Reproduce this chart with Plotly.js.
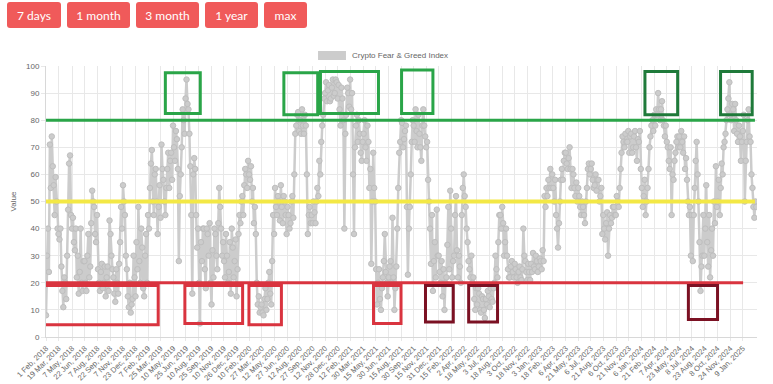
<!DOCTYPE html>
<html>
<head>
<meta charset="utf-8">
<script src="https://cdn.plot.ly/plotly-3.0.1.min.js"></script>
<style>
  body { margin: 0; background: #fff; }
  #wrap { position: relative; width: 773px; height: 384px; overflow: hidden; }
  #chart { position: absolute; left: 0; top: 0; width: 773px; height: 384px; }
  .btn { position: absolute; top: 2px; height: 26px; background: #f05a5a; color: #fff;
         border-radius: 3px; font: 12px Lato, "Open Sans", sans-serif;
         display: flex; align-items: center; justify-content: center; }
</style>
</head>
<body>
<div id="wrap">
  <div id="chart"></div>
  <div class="btn" style="left:7px;width:54px">7 days</div>
  <div class="btn" style="left:67px;width:63px">1 month</div>
  <div class="btn" style="left:136px;width:63px">3 month</div>
  <div class="btn" style="left:205px;width:53px">1 year</div>
  <div class="btn" style="left:264px;width:43px">max</div>
</div>
<script>
// ---- data: index readings every 3.5 days, starting 1 Feb 2018 ----
const seriesName = 'Crypto Fear & Greed Index';
const startDate = '2018-02-01';
const stepDays = 3.5;
const indexValues = [
  8,30, 40,24, 71,55, 74,63, 56,45, 59,50, 40,38,
  36,40, 26,17, 11,22, 20,14, 30,47, 64,67, 45,40,
  44,35, 32,40, 22,30, 16,24, 40,20, 17,28,
  28,20, 17,30, 38,22, 26,42, 54,50, 48,38, 35,45,
  25,20, 17,24, 27,18, 20,26, 15,22, 26,17,
  43,38, 30,25, 22,16, 13,25, 20,16, 27,35, 48,40,
  56,50, 45,30, 25,15, 11,20, 9,12, 14,30,
  22,15, 35,25, 48,28, 20,40, 33,18, 15,30, 38,20,
  45,40, 55,64, 69,50, 45,60, 62,50, 38,48, 56,44,
  71,62, 58,50, 45,55, 62,68, 55,65, 68,58,
  78,70, 65,76, 73,62, 28,52, 60,70, 84,80, 75,88,
  95,86, 84,75, 63,45, 16,60, 66,62, 45,33,
  40,20, 5,35, 28,40, 40,25, 18,40, 38,30, 42,20,
  12,32, 22,40, 38,30, 25,42, 55,48, 40,30,
  35,28, 22,38, 30,20, 24,35, 16,40, 33,22, 28,36,
  15,25, 38,45, 42,50, 52,45, 56,62, 60,55, 65,60,
  58,63, 50,55, 42,48, 38,20, 12,15, 9,11,
  12,9, 8,14, 18,10, 14,20, 24,16, 12,28, 45,38,
  55,48, 45,52, 50,43, 56,48, 42,52, 50,45,
  38,48, 45,40, 42,50, 52,44, 60,75, 78,82, 83,76,
  80,75, 84,78, 75,82, 78,60, 38,45, 48,42,
  45,42, 50,46, 42,50, 55,52, 65,60, 72,78, 82,88,
  90,94, 87,91, 93,87, 88,92, 95,89, 90,95, 94,88,
  93,84, 78,92, 88,80, 40,75, 82,92, 90,85,
  95,84, 90,60, 38,70, 78,82, 72,80, 75,68, 65,72,
  75,80, 70,65, 78,72, 55,62, 27,50, 68,55,
  50,25, 12,20, 25,14, 10,18, 22,28, 38,24, 20,15,
  22,26, 28,20, 44,22, 10,18, 26,40, 55,68,
  72,80, 79,70, 73,76, 78,48, 23,40, 48,60, 72,80,
  78,72, 84,76, 70,82, 75,70, 65,78, 84,78, 74,70,
  72,58, 50,40, 27,45, 17,28, 35,22, 47,30,
  30,24, 20,28, 15,25, 10,20, 22,34, 48,25, 54,40,
  22,28, 30,45, 52,32, 22,30, 26,20, 45,55,
  60,52, 48,40, 35,28, 25,22, 30,20, 22,14, 10,18,
  12,18, 16,10, 9,15, 14,10, 7,14, 12,17,
  15,11, 18,14, 13,18, 20,30, 25,22, 35,45, 45,40,
  48,42, 30,35, 40,30, 25,22, 22,26, 28,24, 22,27,
  25,22, 20,24, 26,22, 21,25, 40,30, 28,24,
  21,27, 24,21, 27,24, 31,26, 25,30, 28,24, 26,29,
  28,25, 32,28, 52,48, 55,52, 58,55, 62,55,
  60,55, 50,58, 45,40, 33,42, 50,58, 62,58, 65,68,
  68,64, 62,66, 70,62, 55,62, 60,55, 52,57,
  50,55, 52,48, 45,50, 48,45, 42,50, 55,62, 64,60,
  62,64, 58,55, 56,60, 54,58, 58,50, 52,55, 38,45,
  40,36, 42,46, 30,40, 45,42, 44,48, 48,45,
  45,52, 50,48, 55,62, 68,74, 72,70, 75,72, 72,76,
  68,74, 75,68, 70,74, 76,70, 65,73, 72,76,
  62,55, 48,52, 58,45, 50,55, 62,70, 74,78, 80,76,
  82,78, 84,82, 90,84, 80,84, 87,80, 78,74,
  78,72, 70,65, 62,70, 45,60, 58,65, 68,72, 74,70,
  74,70, 76,72, 68,74, 62,66, 58,50, 45,48, 30,45,
  28,45, 55,65, 72,60, 50,35, 17,26, 30,45,
  30,40, 56,35, 26,45, 22,32, 40,30, 50,42, 63,48,
  50,58, 45,55, 64,60, 70,72, 75,80, 84,88,
  94,82, 80,86, 84,76, 86,80, 75,72, 78,74, 65,72,
  76,82, 50,65, 72,80, 84,74, 72,60, 55,48, 44,50, 48
];
const tickLabels = [
  '1 Feb, 2018','19 Mar, 2018','7 May, 2018','22 Jun, 2018','7 Aug, 2018','22 Sep, 2018',
  '7 Nov, 2018','23 Dec, 2018','7 Feb, 2019','25 Mar, 2019','10 May, 2019','25 Jun, 2019',
  '10 Aug, 2019','25 Sep, 2019','10 Nov, 2019','26 Dec, 2019','10 Feb, 2020','27 Mar, 2020',
  '12 May, 2020','27 Jun, 2020','12 Aug, 2020','27 Sep, 2020','12 Nov, 2020','28 Dec, 2020',
  '12 Feb, 2021','30 Mar, 2021','15 May, 2021','30 Jun, 2021','15 Aug, 2021','30 Sep, 2021',
  '15 Nov, 2021','31 Dec, 2021','15 Feb, 2022','2 Apr, 2022','18 May, 2022','3 Jul, 2022',
  '18 Aug, 2022','3 Oct, 2022','18 Nov, 2022','3 Jan, 2023','18 Feb, 2023','6 Apr, 2023',
  '21 May, 2023','6 Jul, 2023','21 Aug, 2023','6 Oct, 2023','21 Nov, 2023','6 Jan, 2024',
  '21 Feb, 2024','7 Apr, 2024','23 May, 2024','8 Jul, 2024','23 Aug, 2024','8 Oct, 2024',
  '24 Nov, 2024','9 Jan, 2025'
];
// threshold lines and highlighted zones (dates / index values)
const greedLevel = 80, neutralLevel = 50, fearLevel = 20;
const greedZones = [
  ['2019-04-11','2019-08-16',82.5,97.5],
  ['2020-06-15','2020-10-16',82,97.5],
  ['2020-10-26','2021-05-25',82.5,98],
  ['2021-08-17','2021-12-09',82.5,98.5]
];
const extremeGreedZones = [
  ['2024-01-19','2024-05-17',82,98],
  ['2024-10-20','2025-02-12',82,98]
];
const fearZones = [
  ['2018-01-22','2019-03-16',4.5,19],
  ['2019-06-21','2020-01-17',5,19],
  ['2020-02-09','2020-06-06',4.5,19],
  ['2021-05-07','2021-08-15',5,19]
];
const extremeFearZones = [
  ['2021-11-12','2022-02-21',5.5,19],
  ['2022-04-18','2022-08-01',5.5,19],
  ['2024-06-25','2024-10-09',6.5,19]
];

// ---- build ----
const HOUR = 3600000;
const t0 = Date.parse(startDate + 'T00:00:00Z');
const isoTime = ms => new Date(ms).toISOString().slice(0, 16).replace('T', ' ');
const xDates = indexValues.map((_, i) => isoTime(t0 + i * stepDays * 24 * HOUR));
const MONTHS = {Jan:'01',Feb:'02',Mar:'03',Apr:'04',May:'05',Jun:'06',Jul:'07',Aug:'08',Sep:'09',Oct:'10',Nov:'11',Dec:'12'};
const tickVals = tickLabels.map(s => {
  const m = s.match(/(\d+) (\w+), (\d+)/);
  return m[3] + '-' + MONTHS[m[2]] + '-' + m[1].padStart(2, '0');
});

const GREEN = '#2aa548', DKGREEN = '#1f7a3a', RED = '#d9343f', MAROON = '#7b1123', YELLOW = '#f3e845';
const shapes = [];
const box = (z, c) => shapes.push({type:'rect', xref:'x', yref:'y', x0:z[0], x1:z[1], y0:z[2], y1:z[3],
  line:{color:c, width:3}, fillcolor:'rgba(0,0,0,0)'});
shapes.push({type:'line', xref:'x', yref:'y', x0:'2018-01-26', x1:'2025-02-22', y0:greedLevel, y1:greedLevel, line:{color:GREEN, width:3}});
shapes.push({type:'line', xref:'x', yref:'y', x0:'2018-01-26', x1:'2025-02-22', y0:neutralLevel, y1:neutralLevel, line:{color:YELLOW, width:4}});
shapes.push({type:'line', xref:'x', yref:'y', x0:'2018-01-28', x1:'2025-01-10', y0:fearLevel, y1:fearLevel, line:{color:RED, width:3}});
greedZones.forEach(z => box(z, GREEN));
extremeGreedZones.forEach(z => box(z, DKGREEN));
fearZones.forEach(z => box(z, RED));
extremeFearZones.forEach(z => box(z, MAROON));
// legend swatch
shapes.push({type:'rect', xref:'paper', yref:'paper', x0:0.3826, x1:0.4219, y0:1.0221, y1:1.0554,
  line:{width:0}, fillcolor:'rgb(204,204,204)'});

const FONT = '"Liberation Sans", Arial, sans-serif';
const tickFont = {family: FONT, size: 8, color: '#666'};
const layout = {
  width: 773, height: 384,
  margin: {l:46, r:16, t:66, b:47},
  paper_bgcolor: '#fff', plot_bgcolor: '#fff',
  font: tickFont,
  showlegend: false,
  xaxis: {
    type: 'date', range: ['2018-02-01', '2025-03-01 12:00'],
    tickmode: 'array', tickvals: tickVals, ticktext: tickLabels, tickangle: -45,
    tickfont: {family: FONT, size: 7.6, color: '#666'},
    showgrid: true, gridcolor: '#e8e8e8', gridwidth: 1,
    ticks: 'outside', ticklen: 3, tickcolor: '#e8e8e8',
    showline: true, linecolor: '#d8d8d8', zeroline: false, automargin: false
  },
  yaxis: {
    range: [0, 100], dtick: 10, tickfont: tickFont,
    showgrid: true, gridcolor: '#e8e8e8', ticks: 'outside', ticklen: 4, tickcolor: '#e8e8e8',
    showline: true, linecolor: '#d8d8d8', zeroline: false, automargin: false,
    title: {text: 'Value', font: {family: FONT, size: 8, color: '#666'}, standoff: 8}
  },
  shapes: shapes,
  annotations: [{
    xref:'paper', yref:'paper', x:0.4276, y:1.0387, xanchor:'left', yanchor:'middle',
    text: seriesName, showarrow:false,
    font:{family: FONT, size:8, color:'#666'}
  }]
};

const trace = {
  type: 'scatter', mode: 'lines+markers', name: seriesName,
  x: xDates, y: indexValues,
  line: {color: 'rgb(204,204,204)', width: 2.5},
  marker: {size: 5.5, color: 'rgb(204,204,204)', line: {color: 'rgb(190,190,190)', width: 1}},
  hoverinfo: 'skip'
};

Plotly.newPlot('chart', [trace], layout, {displayModeBar: false, staticPlot: true});
</script>
</body>
</html>
